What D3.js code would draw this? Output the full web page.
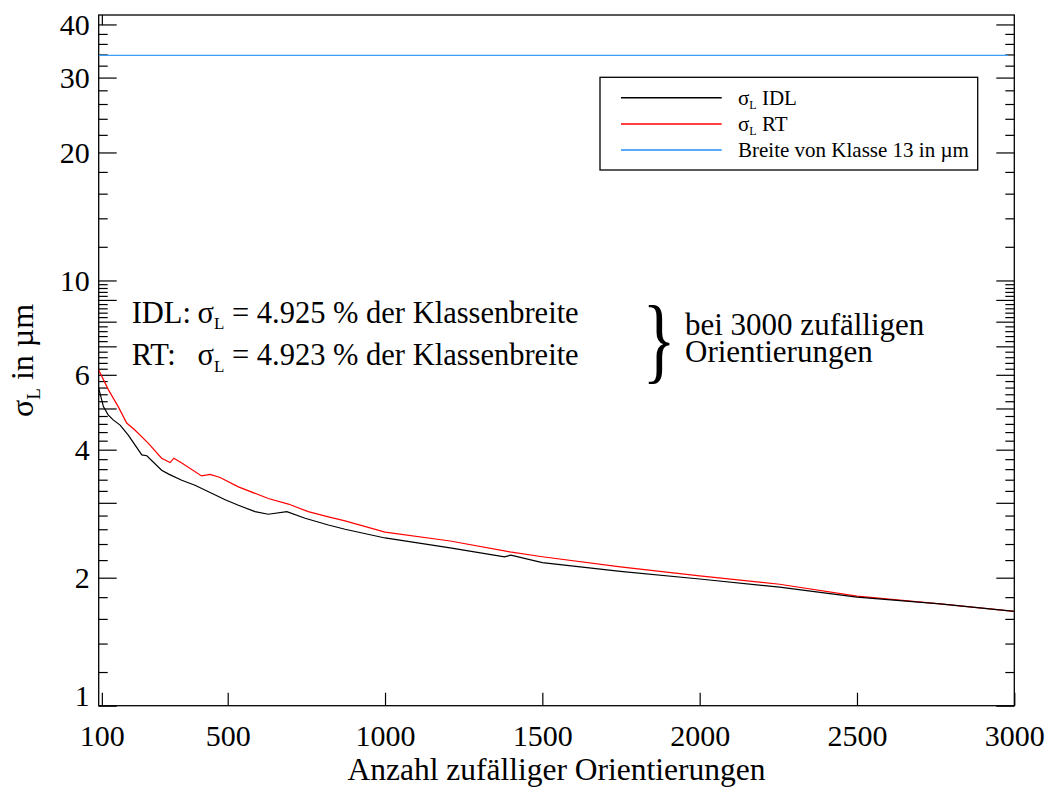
<!DOCTYPE html>
<html>
<head>
<meta charset="utf-8">
<script src="https://d3js.org/d3.v7.min.js"></script>
<style>
  html, body { margin: 0; padding: 0; background: #fff; }
  svg text { font-family: "Liberation Serif", "Times New Roman", serif; fill: #000; }
</style>
</head>
<body>
<svg id="chart" width="1055" height="787"></svg>
<script>
// Number of random orientations (x) and the resulting sigma_L in µm (y)
const idlN = [90, 105, 120, 136, 158, 184, 227, 243, 290, 314, 354, 396, 449, 492, 534, 587, 629, 688, 746, 820, 873, 1000, 1207, 1380, 1400, 1500, 1748, 2000, 2254, 2500, 2764, 3000];
const idlSigma = [5.58, 5.05, 4.83, 4.70, 4.57, 4.33, 3.89, 3.87, 3.58, 3.50, 3.39, 3.30, 3.16, 3.05, 2.96, 2.86, 2.82, 2.86, 2.76, 2.66, 2.60, 2.48, 2.35, 2.24, 2.26, 2.17, 2.07, 1.986, 1.90, 1.80, 1.735, 1.667];

const rtN = [90, 121, 152, 179, 205, 248, 290, 317, 329, 354, 417, 444, 476, 534, 629, 693, 756, 820, 873, 1000, 1207, 1397, 1500, 1748, 2000, 2254, 2500, 2764, 3000];
const rtSigma = [6.16, 5.53, 5.05, 4.62, 4.45, 4.14, 3.82, 3.73, 3.82, 3.72, 3.47, 3.50, 3.44, 3.27, 3.07, 2.98, 2.86, 2.78, 2.72, 2.56, 2.44, 2.30, 2.24, 2.12, 2.02, 1.93, 1.81, 1.735, 1.666];

// Width of class 13 in µm
const classN = [90, 2980];
const classWidth = [33.85, 33.85];

// Axis ticks
const xTicks = [100, 500, 1000, 1500, 2000, 2500, 3000];
const yMajorTicks = [1, 2, 3, 4, 5, 6, 7, 8, 9, 10, 20, 30, 40];
const yTickLabels = [1, 2, 4, 6, 10, 20, 30, 40];

const svg = d3.select("#chart");
const plotLeft = 98.7, plotRight = 1014.3, plotTop = 15, plotBottom = 705.7;

const x = d3.scaleLinear().domain([90, 3000]).range([plotLeft, plotRight]);
const y = d3.scaleLog().domain([1, 42.1]).range([plotBottom, plotTop]);

// minor ticks: every 0.2 below 10, every 2 above 10
const yMinorTicks = d3.range(12, 100, 2).map(v => v / 10).filter(v => Math.abs(v - Math.round(v)) > 1e-6)
  .concat([12, 14, 16, 18, 22, 24, 26, 28, 32, 34, 36, 38]);

// plot frame
svg.append("rect")
  .attr("x", plotLeft).attr("y", plotTop)
  .attr("width", plotRight - plotLeft).attr("height", plotBottom - plotTop)
  .attr("fill", "none").attr("stroke", "#000").attr("stroke-width", 1.3);

function styleAxis(g) {
  g.select(".domain").remove();
  g.selectAll(".tick line").attr("stroke", "#000").attr("stroke-width", 1.2);
  g.selectAll(".tick text").attr("font-family", "Liberation Serif").attr("font-size", 30);
}

// left axis
svg.append("g").attr("transform", `translate(${plotLeft},0)`)
  .call(d3.axisLeft(y).tickValues(yMajorTicks).tickSizeInner(-18).tickSizeOuter(0).tickPadding(9)
    .tickFormat(d => yTickLabels.includes(d) ? String(d) : ""))
  .call(styleAxis)
  .call(g => g.selectAll(".tick text").filter(d => d === 1).attr("dy", "0em"));
svg.append("g").attr("transform", `translate(${plotLeft},0)`)
  .call(d3.axisLeft(y).tickValues(yMinorTicks).tickSizeInner(-9).tickSizeOuter(0).tickFormat(""))
  .call(styleAxis);

// right axis
svg.append("g").attr("transform", `translate(${plotRight},0)`)
  .call(d3.axisRight(y).tickValues(yMajorTicks).tickSizeInner(-18).tickSizeOuter(0).tickFormat(""))
  .call(styleAxis);
svg.append("g").attr("transform", `translate(${plotRight},0)`)
  .call(d3.axisRight(y).tickValues(yMinorTicks).tickSizeInner(-9).tickSizeOuter(0).tickFormat(""))
  .call(styleAxis);

// bottom axis
svg.append("g").attr("transform", `translate(0,${plotBottom})`)
  .call(d3.axisBottom(x).tickValues(xTicks).tickSizeInner(-13).tickSizeOuter(0).tickPadding(19)
    .tickFormat(d3.format("d")))
  .call(styleAxis);

// top axis (first tick only)
svg.append("g").attr("transform", `translate(0,${plotTop})`)
  .call(d3.axisTop(x).tickValues([xTicks[0]]).tickSizeInner(-10).tickSizeOuter(0).tickFormat(""))
  .call(styleAxis);

// axis titles
svg.append("text")
  .attr("x", (plotLeft + plotRight) / 2).attr("y", 780)
  .attr("text-anchor", "middle").attr("font-size", 31.5)
  .text("Anzahl zufälliger Orientierungen");

const yTitle = svg.append("text")
  .attr("transform", `translate(33,${(plotTop + plotBottom) / 2}) rotate(-90)`)
  .attr("text-anchor", "middle").attr("font-size", 32);
yTitle.append("tspan").text("σ");
yTitle.append("tspan").attr("font-size", 19).attr("dy", 7).text("L");
yTitle.append("tspan").attr("dy", -7).text(" in µm");

// curves
const plot = svg.append("g");
plot.append("clipPath").attr("id", "clip")
  .append("rect").attr("x", plotLeft).attr("y", plotTop)
  .attr("width", plotRight - plotLeft).attr("height", plotBottom - plotTop);

const line = d3.line().x(d => x(d[0])).y(d => y(d[1]));

plot.append("path")
  .datum(classN.map((n, i) => [n, classWidth[i]]))
  .attr("d", line).attr("fill", "none").attr("stroke", "#3d9cf5").attr("stroke-width", 1.3)
  .attr("clip-path", "url(#clip)");

plot.append("path")
  .datum(rtN.map((n, i) => [n, rtSigma[i]]))
  .attr("d", line).attr("fill", "none").attr("stroke", "#ff0000").attr("stroke-width", 1.2)
  .attr("clip-path", "url(#clip)");

plot.append("path")
  .datum(idlN.map((n, i) => [n, idlSigma[i]]))
  .attr("d", line).attr("fill", "none").attr("stroke", "#000").attr("stroke-width", 1.2)
  .attr("clip-path", "url(#clip)");

// legend
const legendItems = [
  { label: " IDL", sigma: true, color: "#000" },
  { label: " RT", sigma: true, color: "#ff0000" },
  { label: "Breite von Klasse 13 in µm", sigma: false, color: "#1e8cff" }
];
const legend = svg.append("g");
legend.append("rect")
  .attr("x", 600).attr("y", 77.3).attr("width", 377.7).attr("height", 92.7)
  .attr("fill", "#fff").attr("stroke", "#000").attr("stroke-width", 1.3);
legendItems.forEach((item, i) => {
  const ly = 97.7 + i * 26.2;
  legend.append("line")
    .attr("x1", 621).attr("x2", 721.7).attr("y1", ly).attr("y2", ly)
    .attr("stroke", item.color).attr("stroke-width", 1.5);
  const t = legend.append("text").attr("x", 738).attr("y", ly + 7.3).attr("font-size", 21)
    .style("white-space", "pre");
  if (item.sigma) {
    t.append("tspan").text("σ");
    t.append("tspan").attr("font-size", 12).attr("dy", 4).text("L");
    t.append("tspan").attr("dy", -4).text(item.label);
  } else {
    t.text(item.label);
  }
});

// annotation
const notes = [
  { prefix: "IDL:", value: "4.925", baseline: 322.7 },
  { prefix: "RT:", value: "4.923", baseline: 365 }
];
notes.forEach(n => {
  svg.append("text").attr("x", 131.7).attr("y", n.baseline).attr("font-size", 30.5).text(n.prefix);
  const t = svg.append("text").attr("x", 197.5).attr("y", n.baseline).attr("font-size", 30.5);
  t.append("tspan").text("σ");
  t.append("tspan").attr("font-size", 17).attr("dy", 6.5).text("L");
  t.append("tspan").attr("dy", -6.5).text(` = ${n.value} % der Klassenbreite`);
});

// brace and two-line side note
svg.append("text")
  .attr("transform", "translate(659,371) scale(0.72,1)")
  .attr("text-anchor", "middle").attr("font-size", 96).text("}");
const sideNote = svg.append("text").attr("x", 685).attr("y", 335).attr("font-size", 31);
sideNote.append("tspan").attr("x", 685).text("bei 3000 zufälligen");
sideNote.append("tspan").attr("x", 685).attr("dy", 27).text("Orientierungen");
</script>
</body>
</html>
